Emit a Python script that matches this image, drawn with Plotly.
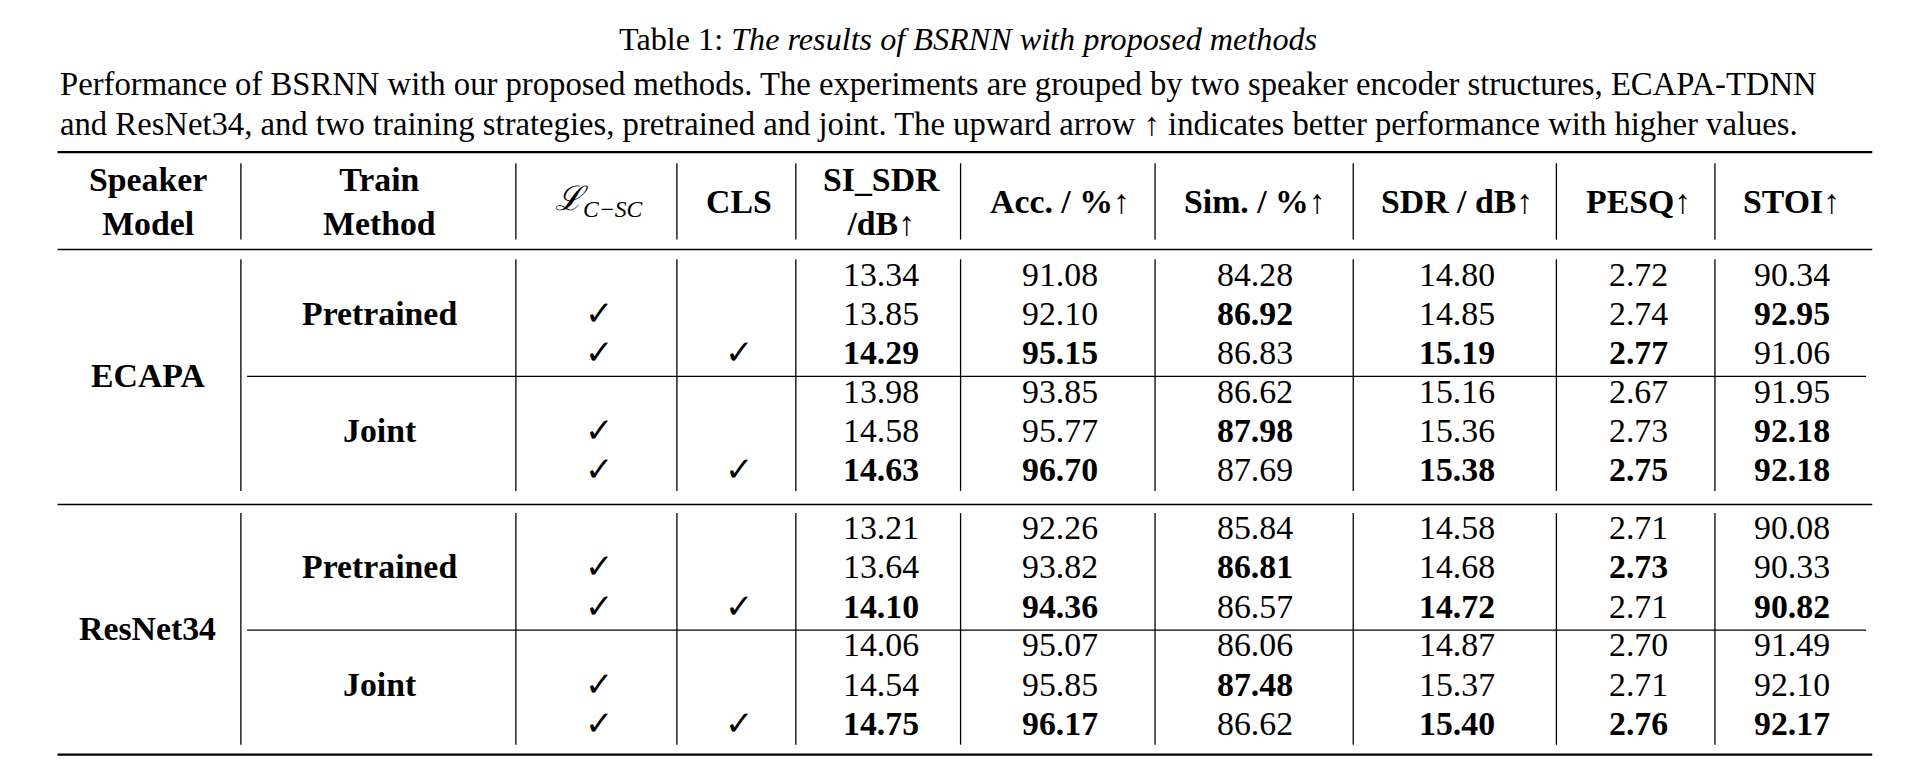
import plotly.graph_objects as go

speaker_models = ["ECAPA", "ResNet34"]
train_methods = ["Pretrained", "Joint"]
headers = ["Speaker<br>Model", "Train<br>Method", "<i>ℒ</i><sub><i>C−SC</i></sub>", "CLS",
           "SI_SDR<br>/dB↑", "Acc. / %↑", "Sim. / %↑", "SDR / dB↑", "PESQ↑", "STOI↑"]
lcsc_flags = [False, True, True]
cls_flags = [False, False, True]
si_sdr = [13.34, 13.85, 14.29, 13.98, 14.58, 14.63, 13.21, 13.64, 14.10, 14.06, 14.54, 14.75]
acc = [91.08, 92.10, 95.15, 93.85, 95.77, 96.70, 92.26, 93.82, 94.36, 95.07, 95.85, 96.17]
sim = [84.28, 86.92, 86.83, 86.62, 87.98, 87.69, 85.84, 86.81, 86.57, 86.06, 87.48, 86.62]
sdr = [14.80, 14.85, 15.19, 15.16, 15.36, 15.38, 14.58, 14.68, 14.72, 14.87, 15.37, 15.40]
pesq = [2.72, 2.74, 2.77, 2.67, 2.73, 2.75, 2.71, 2.73, 2.71, 2.70, 2.71, 2.76]
stoi = [90.34, 92.95, 91.06, 91.95, 92.18, 92.18, 90.08, 90.33, 90.82, 91.49, 92.10, 92.17]
metrics = [si_sdr, acc, sim, sdr, pesq, stoi]

FONT = "Liberation Serif"
W, H = 1550, 625
S = 1920 / W * 1.3
fs = 21 * S

col_x = [113, 300, 477, 590, 705, 849, 1007, 1170, 1316, 1440]
vlines = [188, 410, 540, 636, 769, 926, 1086, 1250, 1378]
row_y0 = [216, 422]
sub_dy = 95
row_dy = 31.7

ann = []
shapes = []
def txt(x, y, t, size=fs, anchor="center"):
    ann.append(dict(x=x, y=y, xref="x", yref="y", text=t, showarrow=False,
                    font=dict(family=FONT, size=size, color="black"), xanchor=anchor, yanchor="middle"))
def line(x0, y0, x1, y1, w=1.3):
    shapes.append(dict(type="line", xref="x", yref="y", x0=x0, y0=y0, x1=x1, y1=y1,
                       line=dict(color="black", width=w)))

txt(775, 25, "Table 1: <i>The results of BSRNN with proposed methods</i>", size=20 * S)
txt(40, 62, "Performance of BSRNN with our proposed methods. The experiments are grouped by two speaker encoder structures, ECAPA-TDNN", size=20.3 * S, anchor="left")
txt(40, 94, "and ResNet34, and two training strategies, pretrained and joint. The upward arrow ↑ indicates better performance with higher values.", size=20.3 * S, anchor="left")

line(40, 117, 1505, 117, 2.2)
line(40, 196, 1505, 196, 1.6)
line(40, 403, 1505, 403, 1.6)
line(40, 606, 1505, 606, 2.2)

for i, h in enumerate(headers):
    txt(col_x[i], 157, "<b>" + h + "</b>" if i != 2 else h)
for vx in vlines:
    line(vx, 126, vx, 188)

for g, sm in enumerate(speaker_models):
    gy = row_y0[g]
    txt(col_x[0], gy + 82, "<b>" + sm + "</b>")
    for vx in vlines:
        line(vx, gy - 12, vx, gy + 176)
    line(193, gy + 82 + 1, 1500, gy + 82 + 1)
    for t, tm in enumerate(train_methods):
        base = gy + t * sub_dy
        txt(col_x[1], base + row_dy, "<b>" + tm + "</b>")
        idx0 = g * 6 + t * 3
        for r in range(3):
            y = base + r * row_dy
            if lcsc_flags[r]:
                txt(col_x[2], y, "✓")
            if cls_flags[r]:
                txt(col_x[3], y, "✓")
            for m, arr in enumerate(metrics):
                v = arr[idx0 + r]
                best = max(arr[idx0:idx0 + 3])
                s = f"{v:.2f}"
                txt(col_x[4 + m], y, f"<b>{s}</b>" if v == best else s)

fig = go.Figure()
fig.update_layout(width=1920, height=770, margin=dict(l=0, r=0, t=0, b=0),
                  plot_bgcolor="white", paper_bgcolor="white",
                  xaxis=dict(range=[0, W], visible=False, fixedrange=True),
                  yaxis=dict(range=[H, 0], visible=False, fixedrange=True),
                  annotations=ann, shapes=shapes, showlegend=False)
fig.write_html("out.html")
